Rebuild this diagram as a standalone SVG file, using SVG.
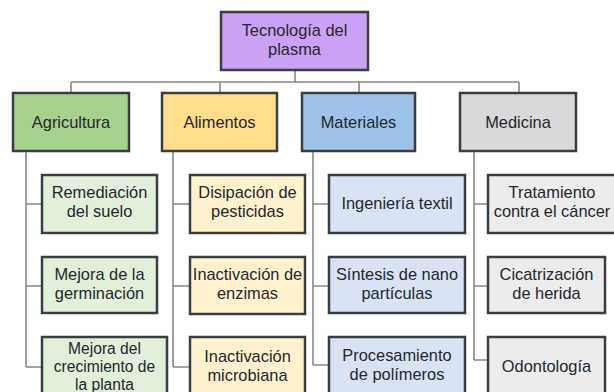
<svg xmlns="http://www.w3.org/2000/svg" width="614" height="392" viewBox="0 0 614 392">
<style>
.b{stroke:#3a3d42;stroke-width:2.5}
.c{fill:none;stroke:#86888a;stroke-width:1.6}
text{font-family:"Liberation Sans",Arial,sans-serif;font-size:16.4px;fill:#24272c;text-anchor:middle}
.s{font-size:15.6px}
.root{fill:#caa2f5}.agr{fill:#a9d18e}.ali{fill:#ffdf8c}.mat{fill:#9fc3e8}.med{fill:#d9d9d9}
.agr2{fill:#e2efda}.ali2{fill:#fff2cc}.mat2{fill:#dae3f3}.med2{fill:#ececec}
</style>
<rect width="614" height="392" fill="#ffffff"/>
<g id="connectors">
<path class="c" d="M295 70V82M71 82H519M71 82V93M220 82V93M359 82V93M519 82V93"/>
<path class="c" d="M26 151V367M26 204H42M26 286H42M26 367H42"/>
<path class="c" d="M173 151V367M173 204H190M173 286H190M173 367H190"/>
<path class="c" d="M313 151V365M313 204H329M313 286H329M313 365H329"/>
<path class="c" d="M474 151V360M474 204H488M474 286H488M474 360H488"/>
</g>
<g id="root"><rect class="b root" x="221" y="12" width="147" height="58"/><text x="294.5" y="36">Tecnología del</text><text x="294.5" y="55">plasma</text></g>
<g id="agricultura"><rect class="b agr" x="13" y="93" width="116" height="58"/><text x="71" y="128">Agricultura</text></g>
<g id="alimentos"><rect class="b ali" x="162" y="93" width="115" height="58"/><text x="219.5" y="128">Alimentos</text></g>
<g id="materiales"><rect class="b mat" x="302" y="93" width="113" height="58"/><text x="358.5" y="128">Materiales</text></g>
<g id="medicina"><rect class="b med" x="460" y="93" width="116" height="58"/><text x="518" y="128">Medicina</text></g>
<g id="remediacion"><rect class="b agr2" x="42" y="175" width="115" height="58"/><text x="99.5" y="198">Remediación</text><text x="99.5" y="217">del suelo</text></g>
<g id="germinacion"><rect class="b agr2" x="42" y="257" width="115" height="56"/><text x="99.5" y="280">Mejora de la</text><text x="99.5" y="299">germinación</text></g>
<g id="crecimiento"><rect class="b agr2" x="42" y="337" width="125" height="62"/><text class="s" x="104.5" y="354">Mejora del</text><text class="s" x="104.5" y="372">crecimiento de</text><text class="s" x="104.5" y="390">la planta</text></g>
<g id="disipacion"><rect class="b ali2" x="190" y="175" width="115" height="58"/><text x="247.5" y="198">Disipación de</text><text x="247.5" y="217">pesticidas</text></g>
<g id="enzimas"><rect class="b ali2" x="190" y="257" width="115" height="57"/><text x="247.5" y="280">Inactivación de</text><text x="247.5" y="299">enzimas</text></g>
<g id="microbiana"><rect class="b ali2" x="190" y="337" width="115" height="62"/><text x="247.5" y="362">Inactivación</text><text x="247.5" y="381">microbiana</text></g>
<g id="textil"><rect class="b mat2" x="329" y="175" width="136" height="58"/><text x="397" y="209">Ingeniería textil</text></g>
<g id="nanoparticulas"><rect class="b mat2" x="329" y="257" width="136" height="56"/><text x="397" y="280">Síntesis de nano</text><text x="397" y="299">partículas</text></g>
<g id="polimeros"><rect class="b mat2" x="329" y="337" width="136" height="62"/><text x="397" y="361">Procesamiento</text><text x="397" y="380">de polímeros</text></g>
<g id="cancer"><rect class="b med2" x="488" y="175" width="130" height="58"/><text x="552" y="198">Tratamiento</text><text x="552" y="217">contra el cáncer</text></g>
<g id="cicatrizacion"><rect class="b med2" x="488" y="257" width="117" height="56"/><text x="546.5" y="280">Cicatrización</text><text x="546.5" y="299">de herida</text></g>
<g id="odontologia"><rect class="b med2" x="488" y="337" width="117" height="62"/><text x="546.5" y="372">Odontología</text></g>
</svg>
